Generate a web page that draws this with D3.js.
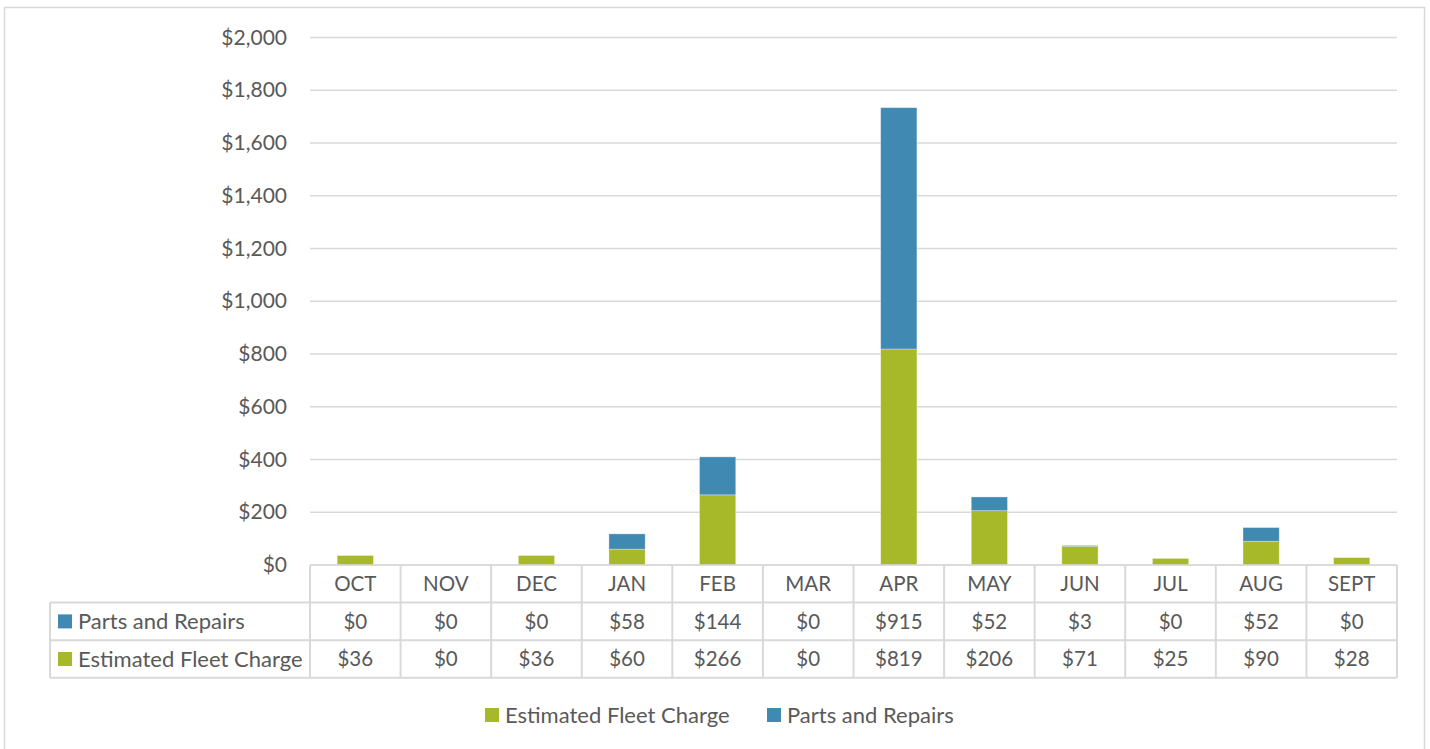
<!DOCTYPE html>
<html>
<head>
<meta charset="utf-8">
<script src="https://cdn.jsdelivr.net/npm/d3@7"></script>
<style>
  body { margin: 0; background: #fff; }
  text { font-family: Lato, "Open Sans", sans-serif; fill: #595959; }
</style>
</head>
<body>
<div id="chart"></div>
<script>
// data
var months = ["OCT", "NOV", "DEC", "JAN", "FEB", "MAR", "APR", "MAY", "JUN", "JUL", "AUG", "SEPT"];
var fleetCharge = [36, 0, 36, 60, 266, 0, 819, 206, 71, 25, 90, 28];
var partsRepairs = [0, 0, 0, 58, 144, 0, 915, 52, 3, 0, 52, 0];
var yTicks = [0, 200, 400, 600, 800, 1000, 1200, 1400, 1600, 1800, 2000];

var seriesNames = ["Estimated Fleet Charge", "Parts and Repairs"];
var green = "#a7b928";
var blue = "#4089b2";
var gridcolor = "#d9d9d9";
var fsize = 20.5;     // numbers, months
var nameSize = 22;    // series names

var width = 1430, height = 749;
var plot = {left: 310, right: 1397, top: 37.5, bottom: 565};
var rowH = 37.6;

var svg = d3.select("#chart").append("svg")
    .attr("width", width)
    .attr("height", height);

// outer frame
svg.append("rect")
    .attr("x", 4.5).attr("y", 7.5)
    .attr("width", 1420).attr("height", 760)
    .attr("fill", "none")
    .attr("stroke", gridcolor)
    .attr("stroke-width", 1.5);

var x = d3.scaleBand()
    .domain(months)
    .range([plot.left, plot.right])
    .paddingInner(0).paddingOuter(0);

var y = d3.scaleLinear()
    .domain([0, 2000])
    .range([plot.bottom, plot.top]);

// gridlines
svg.append("g").selectAll("line")
    .data(yTicks)
    .enter().append("line")
    .attr("x1", plot.left).attr("x2", plot.right)
    .attr("y1", function(d) { return y(d); })
    .attr("y2", function(d) { return y(d); })
    .attr("stroke", gridcolor)
    .attr("stroke-width", 1.5);

// y axis labels
var yAxis = d3.axisLeft(y)
    .tickValues(yTicks)
    .tickSize(0)
    .tickPadding(23)
    .tickFormat(function(d) { return "$" + d3.format(",")(d); });

var yg = svg.append("g")
    .attr("transform", "translate(" + plot.left + ",0)")
    .call(yAxis);
yg.select(".domain").remove();
yg.selectAll("text")
    .style("font-size", "21px")
    .style("font-family", "Lato, sans-serif")
    .attr("fill", "#595959");

// stacked bars
var stackData = months.map(function(m, i) {
  return {month: m, fleet: fleetCharge[i], parts: partsRepairs[i]};
});
var stack = d3.stack().keys(["fleet", "parts"]);
var series = stack(stackData);
var colors = {fleet: green, parts: blue};
var barW = x.bandwidth() * 0.4;

svg.append("g").selectAll("g")
    .data(series)
    .enter().append("g")
    .attr("fill", function(d) { return colors[d.key]; })
    .selectAll("rect")
    .data(function(d) { return d; })
    .enter().append("rect")
    .attr("x", function(d) { return x(d.data.month) + (x.bandwidth() - barW) / 2; })
    .attr("width", barW)
    .attr("y", function(d) { return y(d[1]); })
    .attr("height", function(d) { return y(d[0]) - y(d[1]); })
    .attr("stroke", "#ffffff")
    .attr("stroke-opacity", 0.4)
    .attr("stroke-width", 0.8);

// data table
var table = svg.append("g");
var tableLeft = 50;
var rows = [
  {name: "Parts and Repairs", color: blue, values: partsRepairs},
  {name: "Estimated Fleet Charge", color: green, values: fleetCharge}
];
var row1 = plot.bottom + rowH;        // end of header row
var tableBottom = row1 + rowH * rows.length;

// horizontal lines
table.append("line")
    .attr("x1", plot.left).attr("x2", plot.right)
    .attr("y1", plot.bottom).attr("y2", plot.bottom)
    .attr("stroke", gridcolor).attr("stroke-width", 1.5);
[0, 1, 2].forEach(function(k) {
  table.append("line")
      .attr("x1", tableLeft).attr("x2", plot.right)
      .attr("y1", row1 + k * rowH).attr("y2", row1 + k * rowH)
      .attr("stroke", gridcolor).attr("stroke-width", 2);
});

// vertical lines
table.append("line")
    .attr("x1", tableLeft).attr("x2", tableLeft)
    .attr("y1", row1).attr("y2", tableBottom)
    .attr("stroke", gridcolor).attr("stroke-width", 2);
months.concat(["end"]).forEach(function(m, i) {
  var xx = i < months.length ? x(m) : plot.right;
  table.append("line")
      .attr("x1", xx).attr("x2", xx)
      .attr("y1", plot.bottom).attr("y2", tableBottom)
      .attr("stroke", gridcolor).attr("stroke-width", 2);
});

// month labels
table.selectAll(".month")
    .data(months)
    .enter().append("text")
    .attr("class", "month")
    .attr("x", function(d) { return x(d) + x.bandwidth() / 2; })
    .attr("y", plot.bottom + rowH / 2)
    .attr("dy", "0.35em")
    .attr("text-anchor", "middle")
    .style("font-size", fsize + "px")
    .text(function(d) { return d; });

rows.forEach(function(r, ri) {
  var cy = row1 + rowH * ri + rowH / 2;
  table.append("rect")
      .attr("x", 58).attr("y", cy - 7)
      .attr("width", 14).attr("height", 14)
      .attr("fill", r.color);
  table.append("text")
      .attr("x", 78).attr("y", cy)
      .attr("dy", "0.35em")
      .style("font-size", nameSize + "px")
      .text(r.name);
  table.selectAll(".v" + ri)
      .data(r.values)
      .enter().append("text")
      .attr("x", function(d, i) { return x(months[i]) + x.bandwidth() / 2; })
      .attr("y", cy)
      .attr("dy", "0.35em")
      .attr("text-anchor", "middle")
      .style("font-size", fsize + "px")
      .text(function(d) { return "$" + d3.format(",")(d); });
});

// legend
var legend = svg.append("g");
var legendItems = [
  {name: seriesNames[0], color: green, x: 485},
  {name: seriesNames[1], color: blue, x: 767}
];
legendItems.forEach(function(l) {
  legend.append("rect")
      .attr("x", l.x).attr("y", 708)
      .attr("width", 14).attr("height", 14)
      .attr("fill", l.color);
  legend.append("text")
      .attr("x", l.x + 20).attr("y", 715)
      .attr("dy", "0.35em")
      .style("font-size", nameSize + "px")
      .text(l.name);
});
</script>
</body>
</html>
